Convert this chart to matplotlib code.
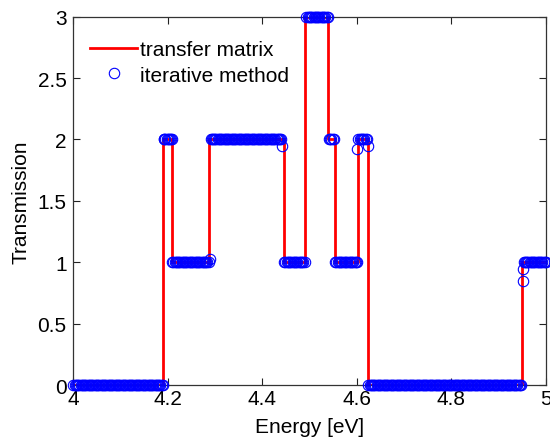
import numpy as np
import matplotlib
matplotlib.use("Agg")
import matplotlib.pyplot as plt

plt.rcParams['font.family'] = ['Liberation Sans', 'DejaVu Sans']

# ---- data ----
# transfer-matrix curve: step function, transitions and plateau levels
tm_edges = [4.0, 4.1905, 4.2085, 4.2875, 4.4445, 4.4905, 4.5395, 4.5525,
            4.6015, 4.6225, 4.9485, 5.0]
tm_levels = [0, 2, 1, 2, 1, 3, 2, 1, 2, 0, 1]

# iterative method: plateaus of densely sampled points (start, end, level)
it_start = [4.000, 4.192, 4.209, 4.290, 4.446, 4.493, 4.540, 4.554, 4.603, 4.624, 4.953]
it_end   = [4.189, 4.207, 4.286, 4.440, 4.489, 4.538, 4.551, 4.600, 4.621, 4.947, 5.000]
it_level = [0, 2, 1, 2, 1, 3, 2, 1, 2, 0, 1]
it_step = 0.0025
# isolated points near transitions
it_extra_E = [4.289, 4.442, 4.601, 4.624, 4.951, 4.951, 4.192, 4.2085]
it_extra_T = [1.03, 1.95, 1.92, 1.95, 0.85, 0.945, 2.0, 2.0]

xticks = [4, 4.2, 4.4, 4.6, 4.8, 5]
xticklabels = ['4', '4.2', '4.4', '4.6', '4.8', '5']
yticks = [0, 0.5, 1, 1.5, 2, 2.5, 3]
yticklabels = ['0', '0.5', '1', '1.5', '2', '2.5', '3']

# build marker series
it_E, it_T = [], []
for s, e, lv in zip(it_start, it_end, it_level):
    n = max(2, int(round((e - s) / it_step)) + 1)
    xs = np.linspace(s, e, n)
    it_E.extend(xs)
    it_T.extend([lv] * n)
it_E.extend(it_extra_E)
it_T.extend(it_extra_T)

# ---- figure ----
fig = plt.figure(figsize=(5.5, 4.39), dpi=100)
ax = fig.add_axes([0.1336, 0.1207, 0.9927 - 0.1336, 0.9597 - 0.1207])

ax.step(tm_edges, tm_levels + [tm_levels[-1]], where='post', color='red',
        lw=2.0, label='transfer matrix', zorder=2)
ax.plot(it_E, it_T, 'o', mfc='none', mec='blue', ms=7.5, mew=0.8,
        label='iterative method', zorder=3, clip_on=False)

ax.set_xlim(4, 5)
ax.set_ylim(0, 3)
ax.set_xticks(xticks)
ax.set_xticklabels(xticklabels)
ax.set_yticks(yticks)
ax.set_yticklabels(yticklabels)
ax.tick_params(direction='in', top=True, right=True, length=5, width=0.8,
               labelsize=15, colors='#222222', labelcolor='black', pad=3)
ax.tick_params(axis='y', pad=5)
for sp in ax.spines.values():
    sp.set_color('#333333')
    sp.set_linewidth(0.9)

ax.set_xlabel('Energy [eV]', fontsize=15, labelpad=6)
ax.set_ylabel('Transmission', fontsize=15, labelpad=5)

leg = ax.legend(loc='upper left', frameon=False, fontsize=15,
                handlelength=2.26, handletextpad=0.15, borderaxespad=0.0,
                borderpad=0.0, labelspacing=0.33,
                bbox_to_anchor=(0.035, 0.937))

fig.savefig('out.png', dpi=100)
